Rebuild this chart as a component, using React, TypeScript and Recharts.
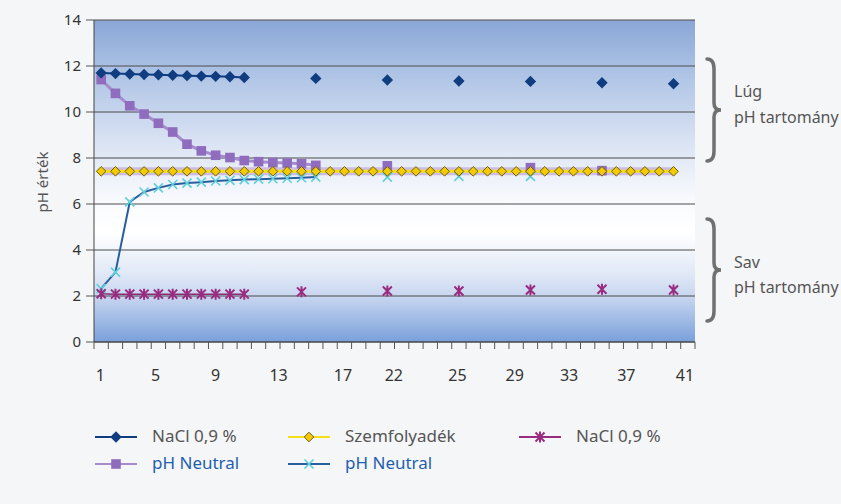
import React from "react"
import { LineChart, Line, XAxis, YAxis, CartesianGrid } from "recharts"

// 41 measurement points on the x axis (the axis itself has room for 42)
const categories = [
  1, 2, 3, 4, 5, 6, 7, 8, 9, 10, 11, 12, 13, 14, 15, 16, 17, 18, 19, 20, 21,
  22, 23, 24, 25, 26, 27, 28, 29, 30, 31, 32, 33, 34, 35, 36, 37, 38, 39, 40, 41,
]

const xLabels = ["1", "5", "9", "13", "17", "22", "25", "29", "33", "37", "41"]
// where the printed labels sit, in category units
const xLabelPos = [0.95, 4.8, 9, 13.4, 17.9, 21.45, 25.9, 29.9, 33.7, 37.7, 41.8]
const yTicks = [0, 2, 4, 6, 8, 10, 12, 14]

const _ = null
const naclBase = [
  11.7, 11.67, 11.65, 11.63, 11.62, 11.6, 11.58, 11.56, 11.55, 11.53, 11.5,
  _, _, _, _, 11.46, _, _, _, _, 11.39, _, _, _, _, 11.35, _, _, _, _,
  11.33, _, _, _, _, 11.27, _, _, _, _, 11.23,
]
const neutralBase = [
  11.41, 10.81, 10.27, 9.91, 9.51, 9.13, 8.6, 8.31, 8.12, 8.02, 7.89, 7.84,
  7.8, 7.78, 7.75, 7.68, _, _, _, _, 7.66, _, _, _, _, _, _, _, _, _,
  7.58, _, _, _, _, 7.45, _, _, _, _, _,
]
const eyeFluid = [
  7.42, 7.42, 7.42, 7.42, 7.42, 7.42, 7.42, 7.42, 7.42, 7.42, 7.42, 7.42,
  7.42, 7.42, 7.42, 7.42, 7.42, 7.42, 7.42, 7.42, 7.42, 7.42, 7.42, 7.42,
  7.42, 7.42, 7.42, 7.42, 7.42, 7.42, 7.42, 7.42, 7.42, 7.42, 7.42, 7.42,
  7.42, 7.42, 7.42, 7.42, 7.42,
]
const naclAcid = [
  2.1, 2.08, 2.08, 2.08, 2.08, 2.08, 2.08, 2.08, 2.08, 2.08, 2.08,
  _, _, _, 2.18, _, _, _, _, _, 2.22, _, _, _, _, 2.22, _, _, _, _,
  2.26, _, _, _, _, 2.29, _, _, _, _, 2.26,
]
const neutralAcid = [
  2.32, 3.04, 6.09, 6.52, 6.7, 6.85, 6.91, 6.95, 7.0, 7.03, 7.06, 7.08,
  7.1, 7.12, 7.14, 7.17, _, _, _, _, 7.17, _, _, _, _, 7.2, _, _, _, _,
  7.2, _, _, _, _, _, _, _, _, _, _,
]

const rows = categories.map((x, i) => ({
  x,
  naclBase: naclBase[i],
  neutralBase: neutralBase[i],
  eyeFluid: eyeFluid[i],
  naclAcid: naclAcid[i],
  neutralAcid: neutralAcid[i],
}))

// tick marks sit on the category boundaries, labels at their own spots
const boundaryTicks = Array.from({ length: 43 }, (_v, i) => i + 0.5)
const allXTicks = [...boundaryTicks, ...xLabelPos].sort((a, b) => a - b)

const sans = '"Noto Sans", "Open Sans", sans-serif'

type MarkProps = { cx: number; cy: number }

const DiamondMark = ({ cx, cy, r, fill, stroke }: MarkProps & { r: number; fill: string; stroke?: string }) => (
  <path
    d={`M${cx},${cy - r}L${cx + r},${cy}L${cx},${cy + r}L${cx - r},${cy}Z`}
    fill={fill}
    stroke={stroke ?? "none"}
    strokeWidth={1}
  />
)

const SquareMark = ({ cx, cy }: MarkProps) => (
  <rect x={cx - 4.8} y={cy - 4.8} width={9.6} height={9.6} fill="#8f6cbd" />
)

const CrossMark = ({ cx, cy }: MarkProps) => (
  <path
    d={`M${cx - 4.5},${cy - 4.5}L${cx + 4.5},${cy + 4.5}M${cx - 4.5},${cy + 4.5}L${cx + 4.5},${cy - 4.5}`}
    stroke="#5fcfdc"
    strokeWidth={1.6}
    fill="none"
  />
)

const StarMark = ({ cx, cy }: MarkProps) => (
  <path
    d={`M${cx - 4.5},${cy - 4.5}L${cx + 4.5},${cy + 4.5}M${cx - 4.5},${cy + 4.5}L${cx + 4.5},${cy - 4.5}M${cx},${cy - 5.5}L${cx},${cy + 5.5}`}
    stroke="#9a2c80"
    strokeWidth={2}
    fill="none"
  />
)

const markers: Record<string, (p: MarkProps) => React.ReactElement> = {
  naclBase: (p) => <DiamondMark {...p} r={5.7} fill="#0f3d80" />,
  neutralBase: (p) => <SquareMark {...p} />,
  eyeFluid: (p) => <DiamondMark {...p} r={4.8} fill="#f2cb05" stroke="#6e5c10" />,
  naclAcid: (p) => <StarMark {...p} />,
  neutralAcid: (p) => <CrossMark {...p} />,
}

const dotFor = (key: string) => (p: any) => {
  if (p.value == null || p.cy == null) return <g key={p.index} />
  return <g key={p.index}>{markers[key]({ cx: p.cx, cy: p.cy })}</g>
}

const XTick = (props: any) => {
  const { x, y, payload } = props
  const v = payload.value
  const li = xLabelPos.indexOf(v)
  if (li >= 0) {
    return (
      <text x={x} y={y + 35} textAnchor="middle" dominantBaseline="middle" fontSize={16} fontFamily={sans} fill="#333">
        {xLabels[li]}
      </text>
    )
  }
  return <line x1={x} y1={y} x2={x} y2={y + 7} stroke="#555" />
}

const legendItems = [
  { key: "naclBase", label: "NaCl 0,9 %", line: "#0f3d80", color: "#555", x: 95, y: 437 },
  { key: "eyeFluid", label: "Szemfolyadék", line: "#f3df1a", color: "#555", x: 288, y: 437 },
  { key: "naclAcid", label: "NaCl 0,9 %", line: "#9a2c80", color: "#555", x: 519, y: 437 },
  { key: "neutralBase", label: "pH Neutral", line: "#a58ccc", color: "#1f5fae", x: 95, y: 464 },
  { key: "neutralAcid", label: "pH Neutral", line: "#2a5f9e", color: "#1f5fae", x: 288, y: 464 },
]

const brace = (x: number, y0: number, y1: number) => {
  const ym = (y0 + y1) / 2
  const xs = x + 7
  const xt = x + 14
  return `M${x},${y0} Q${xs},${y0} ${xs},${y0 + 10} L${xs},${ym - 7} Q${xs},${ym} ${xt},${ym} Q${xs},${ym} ${xs},${ym + 7} L${xs},${y1 - 10} Q${xs},${y1} ${x},${y1}`
}

export default function App() {
  return (
    <div
      style={{
        position: "absolute", left: 0, top: 0, width: 841, height: 504,
        background: "#f5f6f8", overflow: "hidden",
      }}
    >
      <LineChart width={841} height={504} data={rows} margin={{ top: 20, right: 146, bottom: 112, left: 0 }}>
        <defs>
          <linearGradient id="plotBg" x1="0" y1="0" x2="0" y2="1">
            <stop offset="0" stopColor="#89a6d6" />
            <stop offset="0.14" stopColor="#a8bfe3" />
            <stop offset="0.29" stopColor="#c8d6ee" />
            <stop offset="0.43" stopColor="#e3eaf6" />
            <stop offset="0.57" stopColor="#fafbfe" />
            <stop offset="0.66" stopColor="#ffffff" />
            <stop offset="0.79" stopColor="#e0e8f6" />
            <stop offset="0.87" stopColor="#c2d2ee" />
            <stop offset="1" stopColor="#79a0db" />
          </linearGradient>
        </defs>
        <CartesianGrid vertical={false} stroke="#4d4d4d" fill="url(#plotBg)" fillOpacity={1} />
        <XAxis
          dataKey="x"
          type="number"
          domain={[0.5, 42.5]}
          ticks={allXTicks}
          interval={0}
          tickSize={0}
          tickMargin={0}
          height={50}
          tick={<XTick />}
          axisLine={{ stroke: "#444" }}
          tickLine={false}
        />
        <YAxis
          domain={[0, 14]}
          ticks={yTicks}
          interval={0}
          width={94}
          tickSize={8}
          tickMargin={5}
          axisLine={{ stroke: "#444" }}
          tickLine={{ stroke: "#555" }}
          tick={{ fill: "#333", fontSize: 15, fontFamily: sans }}
        />
        <Line
          dataKey="neutralBase" stroke="#a58ccc" strokeWidth={3}
          dot={dotFor("neutralBase")} activeDot={false} isAnimationActive={false} type="linear"
        />
        <Line
          dataKey="neutralAcid" stroke="#2a5f9e" strokeWidth={2}
          dot={dotFor("neutralAcid")} activeDot={false} isAnimationActive={false} type="linear"
        />
        <Line
          dataKey="naclAcid" stroke="#8c2a78" strokeWidth={1.5}
          dot={dotFor("naclAcid")} activeDot={false} isAnimationActive={false} type="linear"
        />
        <Line
          dataKey="naclBase" stroke="#0f3d80" strokeWidth={2}
          dot={dotFor("naclBase")} activeDot={false} isAnimationActive={false} type="linear"
        />
        <Line
          dataKey="eyeFluid" stroke="#cdbbe4" strokeWidth={8}
          dot={false} activeDot={false} isAnimationActive={false} type="linear"
        />
        <Line
          dataKey="eyeFluid" stroke="#f3df1a" strokeWidth={3}
          dot={dotFor("eyeFluid")} activeDot={false} isAnimationActive={false} type="linear"
        />
      </LineChart>

      <svg width={841} height={504} style={{ position: "absolute", left: 0, top: 0, pointerEvents: "none" }}>
        <text
          x={44} y={182} transform="rotate(-90 44 182)" textAnchor="middle"
          fontFamily={sans} fontSize={15} fill="#555" dominantBaseline="middle"
        >
          pH érték
        </text>
        <path d={brace(707, 59, 161)} stroke="#707070" strokeWidth={3.5} fill="none" strokeLinecap="round" />
        <path d={brace(707, 219, 321)} stroke="#707070" strokeWidth={3.5} fill="none" strokeLinecap="round" />
        <g fontFamily={sans} fontSize={16} fill="#555">
          <text x={734} y={97}>Lúg</text>
          <text x={734} y={123}>pH tartomány</text>
          <text x={734} y={268}>Sav</text>
          <text x={734} y={293}>pH tartomány</text>
        </g>
        {legendItems.map((it) => (
          <g key={it.key + it.y}>
            <line x1={it.x} y1={it.y} x2={it.x + 42} y2={it.y} stroke={it.line} strokeWidth={2} />
            {markers[it.key]({ cx: it.x + 21, cy: it.y })}
            <text x={it.x + 57} y={it.y} dominantBaseline="middle" fontFamily={sans} fontSize={17} fill={it.color}>
              {it.label}
            </text>
          </g>
        ))}
      </svg>
    </div>
  )
}
